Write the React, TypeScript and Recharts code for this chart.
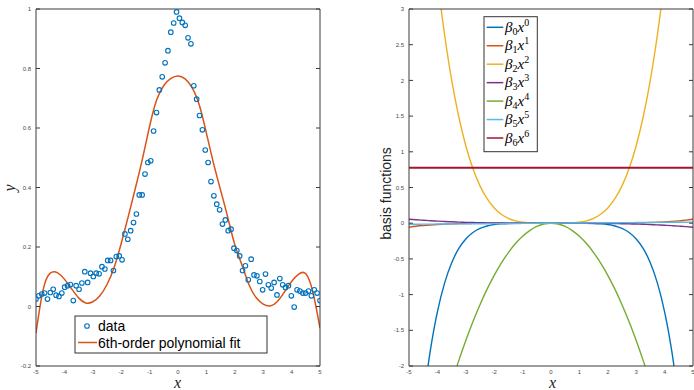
import React from 'react';
import { ComposedChart, Line, Scatter, XAxis, YAxis } from 'recharts';

// ---------- left panel: data + 6th-order fit ----------
const dataX = [-5.000,-4.899,-4.798,-4.697,-4.596,-4.495,-4.394,-4.293,-4.192,-4.091,-3.990,-3.889,-3.788,-3.687,-3.586,-3.485,-3.384,-3.283,-3.182,-3.081,-2.980,-2.879,-2.778,-2.677,-2.576,-2.475,-2.374,-2.273,-2.172,-2.071,-1.970,-1.869,-1.768,-1.667,-1.566,-1.465,-1.364,-1.263,-1.162,-1.061,-0.960,-0.859,-0.758,-0.657,-0.556,-0.455,-0.354,-0.253,-0.152,-0.051,0.051,0.152,0.253,0.354,0.455,0.556,0.657,0.758,0.859,0.960,1.061,1.162,1.263,1.364,1.465,1.566,1.667,1.768,1.869,1.970,2.071,2.172,2.273,2.374,2.475,2.576,2.677,2.778,2.879,2.980,3.081,3.182,3.283,3.384,3.485,3.586,3.687,3.788,3.889,3.990,4.091,4.192,4.293,4.394,4.495,4.596,4.697,4.798,4.899,5.000];
const dataY = [0.025,0.036,0.042,0.045,0.025,0.047,0.058,0.038,0.034,0.045,
  0.065,0.070,0.074,0.020,0.070,0.058,0.079,0.117,0.081,0.112,
  0.101,0.112,0.110,0.134,0.126,0.155,0.155,0.121,0.168,0.170,
  0.157,0.244,0.226,0.255,0.282,0.311,0.375,0.375,0.445,0.484,
  0.490,0.590,0.652,0.728,0.772,0.819,0.860,0.922,0.953,0.990,
  0.969,0.955,0.945,0.903,0.883,0.742,0.697,0.642,0.594,0.526,
  0.484,0.420,0.372,0.344,0.325,0.277,0.291,0.255,0.260,0.196,
  0.188,0.170,0.121,0.137,0.090,0.159,0.106,0.103,0.084,0.056,
  0.109,0.073,0.062,0.081,0.039,0.094,0.073,0.064,0.070,0.036,
  -0.002,0.056,0.052,0.045,0.045,0.052,0.036,0.056,0.045,0.020];

const fitX = [-5,-4.75,-4.5,-4.25,-4,-3.75,-3.5,-3.25,-3,-2.75,-2.5,-2.25,-2,-1.75,-1.5,-1.25,-1,-0.75,-0.5,-0.25,0,0.25,0.5,0.75,1,1.25,1.5,1.75,2,2.25,2.5,2.75,3,3.25,3.5,3.75,4,4.25,4.5,4.75,5];
const fitY = [-0.089,0.056,0.112,0.114,0.092,0.060,0.029,0.012,0.016,0.036,0.074,0.131,0.212,0.303,0.398,0.497,0.606,0.695,0.743,0.767,0.775,0.765,0.735,0.677,0.583,0.482,0.391,0.300,0.208,0.140,0.073,0.030,0.008,0.002,0.017,0.049,0.084,0.109,0.110,0.048,-0.073];

const leftXTicks = [-5,-4,-3,-2,-1,0,1,2,3,4,5];
const leftYTicks = [-0.2,0,0.2,0.4,0.6,0.8,1];

// ---------- right panel: basis functions ----------
const basisX = [-5,-4.75,-4.5,-4.25,-4,-3.75,-3.5,-3.25,-3,-2.75,-2.5,-2.25,-2,-1.75,-1.5,-1.25,-1,-0.75,-0.5,-0.25,0,0.25,0.5,0.75,1,1.25,1.5,1.75,2,2.25,2.5,2.75,3,3.25,3.5,3.75,4,4.25,4.5,4.75,5];
const basis0 = [-4.734,-3.480,-2.516,-1.786,-1.241,-0.843,-0.557,-0.357,-0.221,-0.131,-0.074,-0.039,-0.019,-0.009,-0.0035,-0.0012,-0.0003,-0.0001,0,0,0,0,0,-0.0001,-0.0003,-0.0012,-0.0035,-0.009,-0.019,-0.039,-0.074,-0.131,-0.221,-0.357,-0.557,-0.843,-1.241,-1.786,-2.516,-3.480,-4.734];
const basis1 = [-0.0563,-0.0435,-0.0332,-0.025,-0.0184,-0.0133,-0.0095,-0.0065,-0.0044,-0.0028,-0.0018,-0.001,-0.0006,-0.0003,-0.0001,0,0,0,0,0,0,0,0,0,0,0,0.0001,0.0003,0.0006,0.001,0.0018,0.0028,0.0044,0.0065,0.0095,0.0133,0.0184,0.025,0.0332,0.0435,0.0563];
const basis2 = [8.375,6.822,5.495,4.372,3.43,2.65,2.011,1.495,1.085,0.766,0.523,0.343,0.214,0.126,0.068,0.033,0.013,0.004,0.0008,0,0,0,0.0008,0.004,0.013,0.033,0.068,0.126,0.214,0.343,0.523,0.766,1.085,1.495,2.011,2.65,3.43,4.372,5.495,6.822,8.375];
const basis3 = [0.0563,0.0482,0.041,0.0345,0.0288,0.0237,0.0193,0.0154,0.0122,0.0094,0.007,0.0051,0.0036,0.0024,0.0015,0.0009,0.0005,0.0002,0.0001,0,0,0,-0.0001,-0.0002,-0.0005,-0.0009,-0.0015,-0.0024,-0.0036,-0.0051,-0.007,-0.0094,-0.0122,-0.0154,-0.0193,-0.0237,-0.0288,-0.0345,-0.041,-0.0482,-0.0563];
const basis4 = [-4.563,-4.118,-3.696,-3.296,-2.92,-2.566,-2.236,-1.928,-1.643,-1.38,-1.141,-0.924,-0.73,-0.559,-0.411,-0.285,-0.183,-0.103,-0.046,-0.011,0,-0.011,-0.046,-0.103,-0.183,-0.285,-0.411,-0.559,-0.73,-0.924,-1.141,-1.38,-1.643,-1.928,-2.236,-2.566,-2.92,-3.296,-3.696,-4.118,-4.563];
const basis5 = [-0.015,-0.0143,-0.0135,-0.0128,-0.012,-0.0113,-0.0105,-0.0098,-0.009,-0.0083,-0.0075,-0.0068,-0.006,-0.0053,-0.0045,-0.0038,-0.003,-0.0023,-0.0015,-0.0008,0,0.0008,0.0015,0.0023,0.003,0.0038,0.0045,0.0053,0.006,0.0068,0.0075,0.0083,0.009,0.0098,0.0105,0.0113,0.012,0.0128,0.0135,0.0143,0.015];
const basis6 = [0.775,0.775,0.775,0.775,0.775,0.775,0.775,0.775,0.775,0.775,0.775,0.775,0.775,0.775,0.775,0.775,0.775,0.775,0.775,0.775,0.775,0.775,0.775,0.775,0.775,0.775,0.775,0.775,0.775,0.775,0.775,0.775,0.775,0.775,0.775,0.775,0.775,0.775,0.775,0.775,0.775];

const basisLabels = ['0', '1', '2', '3', '4', '5', '6'];
const rightXTicks = [-5,-4,-3,-2,-1,0,1,2,3,4,5];
const rightYTicks = [-2,-1.5,-1,-0.5,0,0.5,1,1.5,2,2.5,3];

const COLORS = ['#0072BD', '#D95319', '#EDB120', '#7E2F8E', '#77AC30', '#4DBEEE', '#A2142F'];
const AXIS = '#3a3a3a';
const SANS = '"Liberation Sans", Arial, Helvetica, sans-serif';
const SERIF = '"Liberation Serif", "DejaVu Serif", serif';
const tickStyle = { fontSize: 6, fill: '#4a4a4a', fontFamily: SANS };
const NoTick = () => <g />;

const scatterPts = dataX.map((x, i) => ({ x, y: dataY[i] }));
const fitPts = fitX.map((x, i) => ({ x, y: fitY[i] }));
const basisSets = [basis0, basis1, basis2, basis3, basis4, basis5, basis6];
const basisSeries = basisSets.map((s) => basisX.map((x, i) => ({ x, y: s[i] })));

function frame(xTicks: number[], yTicks: number[], xDom: [number, number], yDom: [number, number], yW: number) {
  return [
    <XAxis key="x" xAxisId="x" dataKey="x" type="number" allowDataOverflow interval={0} domain={xDom} ticks={xTicks}
      height={24} tickLine={false} tickSize={0} tickMargin={4} axisLine={{ stroke: AXIS }} tick={tickStyle} />,
    <XAxis key="xb" xAxisId="xb" type="number" allowDataOverflow interval={0} domain={xDom} ticks={xTicks}
      orientation="bottom" mirror tickSize={4} tickLine={{ stroke: AXIS }} axisLine={false} tick={NoTick} />,
    <XAxis key="xt" xAxisId="xt" type="number" allowDataOverflow interval={0} domain={xDom} ticks={xTicks}
      orientation="top" mirror tickSize={4} tickLine={{ stroke: AXIS }} axisLine={{ stroke: AXIS }} tick={NoTick} />,
    <YAxis key="y" yAxisId="y" dataKey="y" type="number" allowDataOverflow interval={0} domain={yDom} ticks={yTicks}
      width={yW} tickLine={false} tickSize={0} tickMargin={5} axisLine={{ stroke: AXIS }} tick={tickStyle} />,
    <YAxis key="yl" yAxisId="yl" type="number" allowDataOverflow interval={0} domain={yDom} ticks={yTicks}
      orientation="left" mirror tickSize={4} tickLine={{ stroke: AXIS }} axisLine={false} tick={NoTick} />,
    <YAxis key="yr" yAxisId="yr" type="number" allowDataOverflow interval={0} domain={yDom} ticks={yTicks}
      orientation="right" mirror tickSize={4} tickLine={{ stroke: AXIS }} axisLine={{ stroke: AXIS }} tick={NoTick} />,
  ];
}

const Circle = (p: any) => (
  <circle cx={p.cx} cy={p.cy} r={2.3} fill="none" stroke={COLORS[0]} strokeWidth={1.1} />
);

export default function App() {
  return (
    <div style={{ position: 'absolute', left: 0, top: 0, width: 694, height: 390, background: '#fff', overflow: 'hidden' }}>
      <div style={{ position: 'absolute', left: 0, top: 0 }}>
        <ComposedChart width={347} height={390} margin={{ top: 9, right: 27, bottom: 0, left: 0 }}>
          {frame(leftXTicks, leftYTicks, [-5, 5], [-0.2, 1], 36)}
          <Scatter xAxisId="x" yAxisId="y" name="data" data={scatterPts} dataKey="y" shape={Circle} isAnimationActive={false} />
          <Line xAxisId="x" yAxisId="y" name="6th-order polynomial fit" data={fitPts} dataKey="y" type="natural"
            stroke={COLORS[1]} strokeWidth={1.5} dot={false} activeDot={false} isAnimationActive={false} />
        </ComposedChart>
      </div>
      <div style={{ position: 'absolute', left: 347, top: 0 }}>
        <ComposedChart width={347} height={390} margin={{ top: 9, right: 1, bottom: 0, left: 0 }}>
          {frame(rightXTicks, rightYTicks, [-5, 5], [-2, 3], 62)}
          {basisSeries.map((pts, k) => (
            <Line key={k} xAxisId="x" yAxisId="y" name={'b' + k} data={pts} dataKey="y" type={k === 6 ? 'linear' : 'natural'}
              stroke={COLORS[k]} strokeWidth={k === 6 ? 2 : 1.4} dot={false} activeDot={false} isAnimationActive={false} />
          ))}
        </ComposedChart>
      </div>
      <svg width={694} height={390} style={{ position: 'absolute', left: 0, top: 0, pointerEvents: 'none' }}>
        {/* axis titles */}
        <text transform="translate(15,188) rotate(-90)" textAnchor="middle" fontFamily={SERIF} fontStyle="italic" fontSize={16} fill="#222">y</text>
        <text x={177.5} y={388} textAnchor="middle" fontFamily={SERIF} fontStyle="italic" fontSize={16} fill="#222">x</text>
        <text x={552.5} y={388} textAnchor="middle" fontFamily={SERIF} fontStyle="italic" fontSize={16} fill="#222">x</text>
        <text transform="translate(391,193.5) rotate(-90)" textAnchor="middle" fontFamily={SANS} fontSize={14} fill="#222">basis functions</text>
        {/* left legend */}
        <rect x={75} y={316} width={192} height={37} fill="#fff" stroke="#333" strokeWidth={1} />
        <circle cx={87} cy={326} r={2.3} fill="none" stroke={COLORS[0]} strokeWidth={1.1} />
        <text x={98} y={326} dominantBaseline="central" fontFamily={SANS} fontSize={14} fill="#000">data</text>
        <line x1={78} x2={97} y1={342.5} y2={342.5} stroke={COLORS[1]} strokeWidth={1.5} />
        <text x={98} y={342.5} dominantBaseline="central" fontFamily={SANS} fontSize={14} fill="#000">6th-order polynomial fit</text>
        {/* right legend */}
        <rect x={484} y={16.7} width={53.3} height={135} fill="#fff" stroke="#333" strokeWidth={1} />
        {basisLabels.map((k, i) => {
          const cy = 27.3 + i * 18.45;
          return (
            <g key={k}>
              <line x1={486.7} x2={503.3} y1={cy} y2={cy} stroke={COLORS[i]} strokeWidth={1.5} />
              <text x={505} y={cy + 4.5} fontFamily={SERIF} fontSize={15} fill="#000">
                <tspan fontStyle="italic">β</tspan>
                <tspan fontSize={10} dy={3}>{k}</tspan>
                <tspan fontStyle="italic" dy={-3}>x</tspan>
                <tspan fontSize={10} dy={-6}>{k}</tspan>
              </text>
            </g>
          );
        })}
      </svg>
    </div>
  );
}
